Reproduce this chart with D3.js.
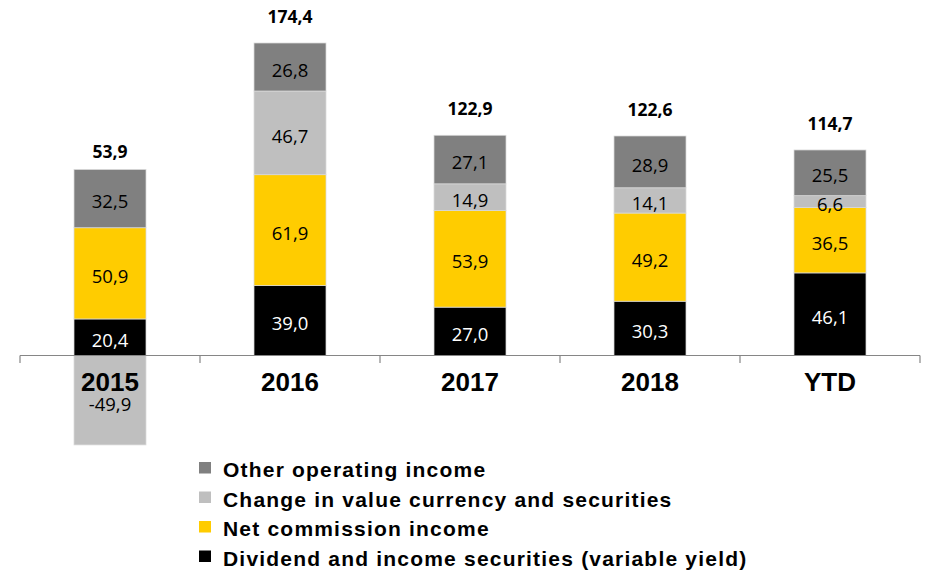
<!DOCTYPE html>
<html><head><meta charset="utf-8">
<script src="https://cdn.jsdelivr.net/npm/d3@7"></script>
<style>body{margin:0;background:#fff}svg{display:block}</style>
</head><body><svg id="c" width="926" height="570"></svg>
<script>
const categories = ["2015","2016","2017","2018","YTD"];
const dividend   = [20.4, 39.0, 27.0, 30.3, 46.1];
const commission = [50.9, 61.9, 53.9, 49.2, 36.5];
const changeVal  = [-49.9, 46.7, 14.9, 14.1, 6.6];
const otherInc   = [32.5, 26.8, 27.1, 28.9, 25.5];
const totals     = [53.9, 174.4, 122.9, 122.6, 114.7];
const seriesNames = ["Other operating income","Change in value currency and securities","Net commission income","Dividend and income securities (variable yield)"];

const series = [
  {name: seriesNames[3], values: dividend,   color: "#000000", text: "#ffffff"},
  {name: seriesNames[2], values: commission, color: "#ffcc00", text: "#000000"},
  {name: seriesNames[1], values: changeVal,  color: "#bfbfbf", text: "#000000"},
  {name: seriesNames[0], values: otherInc,   color: "#808080", text: "#000000"}
];

const svg = d3.select("#c");
const x = d3.scaleBand().domain(categories).range([20, 920]).paddingInner(0.6).paddingOuter(0.3);
const y = d3.scaleLinear().domain([0, 174.4]).range([355.5, 43]);

const segs = [];
const posTop = categories.map(() => 0);
const negBot = categories.map(() => 0);
series.forEach(s => {
  s.values.forEach((v, i) => {
    let y0, y1;
    if (v >= 0) { y0 = posTop[i]; y1 = posTop[i] + v; posTop[i] = y1; }
    else { y0 = negBot[i]; y1 = negBot[i] + v; negBot[i] = y1; }
    segs.push({cat: categories[i], v, y0, y1, color: s.color, text: s.text});
  });
});

svg.append("g").selectAll("rect").data(segs).join("rect")
  .attr("x", d => x(d.cat))
  .attr("width", x.bandwidth())
  .attr("y", d => Math.min(y(d.y0), y(d.y1)))
  .attr("height", d => Math.abs(y(d.y0) - y(d.y1)))
  .attr("fill", d => d.color)
  .attr("stroke", "#d9d9d9").attr("stroke-width", 0.75);

const fmt = v => d3.format(".1f")(v).replace("\u2212", "-").replace(".", ",");

svg.append("g").selectAll("text").data(segs).join("text")
  .attr("x", d => x(d.cat) + x.bandwidth() / 2)
  .attr("y", d => (y(d.y0) + y(d.y1)) / 2 + (d.v < 0 ? 4 : 3))
  .attr("dy", "0.36em")
  .attr("text-anchor", "middle")
  .attr("font-family", "'Open Sans', sans-serif")
  .attr("font-size", 18.5)
  .attr("fill", d => d.text)
  .text(d => fmt(d.v));

// axis
const axisG = svg.append("g");
axisG.append("line").attr("x1", 20).attr("x2", 920).attr("y1", 355.5).attr("y2", 355.5)
  .attr("stroke", "#868686").attr("stroke-width", 1.2);
const edges = [20].concat(categories.map(c => x(c) + x.bandwidth() / 2 + x.step() / 2));
axisG.selectAll("line.t").data(edges).join("line").attr("class", "t")
  .attr("x1", d => d).attr("x2", d => d).attr("y1", 355.5).attr("y2", 363)
  .attr("stroke", "#868686").attr("stroke-width", 1.2);
axisG.selectAll("text").data(categories).join("text")
  .attr("x", c => x(c) + x.bandwidth() / 2)
  .attr("y", 391)
  .attr("text-anchor", "middle")
  .attr("font-family", "'Liberation Sans', Arial, sans-serif")
  .attr("font-weight", "bold")
  .attr("font-size", 26)
  .attr("fill", "#000")
  .text(c => c);

// totals
svg.append("g").selectAll("text").data(categories).join("text")
  .attr("x", c => x(c) + x.bandwidth() / 2)
  .attr("y", (c, i) => y(posTop[i]) - (negBot[i] < 0 ? 12 : 20))
  .attr("text-anchor", "middle")
  .attr("font-family", "'Open Sans', sans-serif")
  .attr("font-weight", "bold")
  .attr("font-size", 17.5)
  .attr("fill", "#000")
  .text((c, i) => fmt(totals[i]));

// legend
const legendItems = [series[3], series[2], series[1], series[0]];
const lg = svg.append("g");
legendItems.forEach((s, i) => {
  const by = 477 + i * 29.5;
  lg.append("rect").attr("x", 199).attr("y", by - 15).attr("width", 12).attr("height", 11.5).attr("fill", s.color);
  lg.append("text").attr("x", 223).attr("y", by)
    .attr("font-family", "'Liberation Sans', Arial, sans-serif")
    .attr("font-weight", "bold").attr("font-size", 21)
    .attr("letter-spacing", 1.2)
    .attr("fill", "#000").text(s.name);
});
</script></body></html>
